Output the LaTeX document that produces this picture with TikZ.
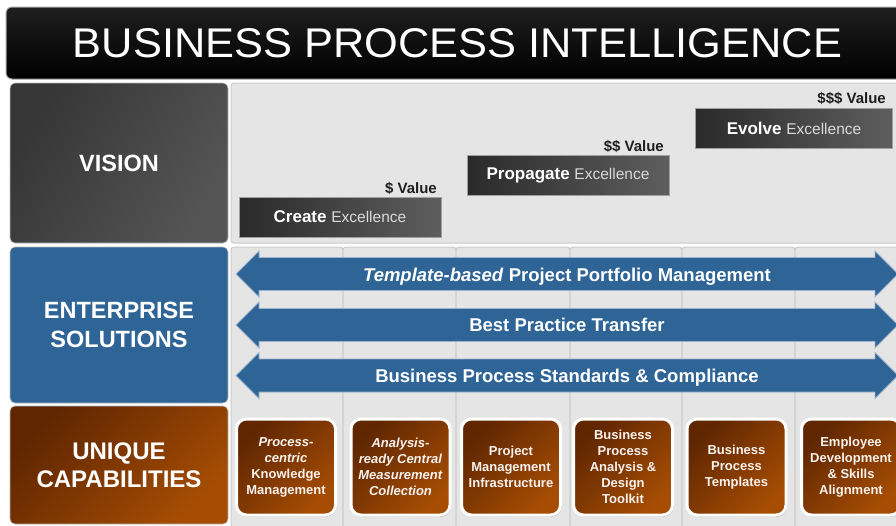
\documentclass[tikz,border=0pt]{standalone}
\usepackage{fontspec}
\usepackage{graphicx}
\setmainfont{Liberation Sans}
\usetikzlibrary{shadows}
\definecolor{panel}{HTML}{E5E5E5}
\definecolor{panelline}{HTML}{CBCBCB}
\definecolor{visA}{HTML}{363636}
\definecolor{visB}{HTML}{555555}
\definecolor{entblue}{HTML}{2F6497}
\definecolor{arrowline}{HTML}{9BB3CC}
\definecolor{brA}{HTML}{5F2600}
\definecolor{brB}{HTML}{A64D03}
\definecolor{stepA}{HTML}{2A2A2A}
\definecolor{stepB}{HTML}{5E5E5E}
\definecolor{excgray}{HTML}{DADADA}
\definecolor{valtext}{HTML}{1E1E1E}
\definecolor{captext}{HTML}{FBF3F0}
\tikzset{
  hdrbox/.style={rounded corners=5pt, draw=gray!55, line width=0.6pt, text=white,
    align=center, inner sep=0pt, minimum width=218pt,
    font=\fontsize{23.5}{29}\selectfont\bfseries},
  stepbox/.style={draw=gray!75, line width=1pt, left color=stepA, right color=stepB,
    text=white, inner sep=0pt, minimum width=202pt, minimum height=40pt,
    font=\fontsize{17}{20}\selectfont\bfseries},
  valuetext/.style={text=valtext, inner sep=0pt, anchor=base east,
    font=\fontsize{15}{18}\selectfont\bfseries},
  arrowshape/.style={fill=entblue, draw=arrowline, line width=0.8pt},
  arrowtext/.style={text=white, inner sep=0pt, anchor=base,
    font=\fontsize{18.5}{22}\selectfont\bfseries},
  capitem/.style={rounded corners=10pt, draw=white, line width=3pt,
    left color=brA, right color=brB, shading angle=45,
    minimum width=99pt, minimum height=96pt, inner sep=0pt, align=center,
    text=captext, font=\fontsize{13}{16}\selectfont\bfseries,
    drop shadow={shadow xshift=1pt, shadow yshift=-1.5pt, opacity=0.35, fill=black}},
  colpanel/.style={fill=panel, draw=panelline, line width=1pt, rounded corners=3pt}
}
\newcommand{\exc}{{\mdseries\fontsize{15.5}{18}\selectfont\color{excgray}Excellence}}
\begin{document}
\begin{tikzpicture}[x=1pt,y=-1pt]
\useasboundingbox (0,0) rectangle (896,525);
\clip (0,0) rectangle (896,525);
\fill[white] (0,0) rectangle (896,525);

% title bar
\draw[rounded corners=6pt, top color=black!88, bottom color=black, draw=gray!70, line width=1pt]
  (6,7) rectangle (910,79);
\node[text=white, inner sep=0pt] (title) at (457.5,43.5)
  {\resizebox{769pt}{29pt}{\fontsize{40}{40}\selectfont BUSINESS PROCESS INTELLIGENCE}};

% vision panel
\draw[colpanel] (231,83) rectangle (910,243);
% column panels
\foreach \xa/\xb in {231/343, 343/456, 456/570, 570/682, 682/795, 795/910}
  \draw[colpanel] (\xa,247) rectangle (\xb,535);

% row headers
\node[hdrbox, left color=visA, right color=visB, shading angle=60, minimum height=160pt]
  (vision) at (119,163) {VISION};
\node[hdrbox, fill=entblue, minimum height=156pt]
  (enterprise) at (119,325) {ENTERPRISE\\SOLUTIONS};
\node[hdrbox, left color=brA, right color=brB, shading angle=45, minimum height=118pt,
  font=\fontsize{24}{28}\selectfont\bfseries]
  (unique) at (119,465) {UNIQUE\\CAPABILITIES};

% vision steps
\node[stepbox] (create) at (340,217) {Create \exc};
\node[valuetext] (cval) at (437,193) {\$ Value};
\node[stepbox] (propagate) at (568,175) {Propagate \exc};
\node[valuetext] (pval) at (664,151) {\$\$ Value};
\node[stepbox, minimum width=197pt] (evolve) at (794,128) {Evolve \exc};
\node[valuetext] (eval) at (886,103) {\$\$\$ Value};

% double arrows
\foreach \c/\nm in {274/a1, 325/a2, 375.5/a3}{
  \draw[arrowshape] (236,\c) -- (259,\c-23) -- (259,\c-16.5) -- (875,\c-16.5) -- (875,\c-23)
    -- (898,\c) -- (875,\c+23) -- (875,\c+16.5) -- (259,\c+16.5) -- (259,\c+23) -- cycle;
}
\node[arrowtext] (t1) at (567,281) {\textit{Template-based} Project Portfolio Management};
\node[arrowtext] (t2) at (567,331.5) {Best Practice Transfer};
\node[arrowtext] (t3) at (567,382.5) {Business Process Standards \& Compliance};

% unique capabilities
\node[capitem] (c1) at (286,467) {\textit{Process-}\\\textit{centric}\\Knowledge\\Management};
\node[capitem] (c2) at (400.5,467) {\textit{Analysis-}\\\textit{ready Central}\\\textit{Measurement}\\\textit{Collection}};
\node[capitem] (c3) at (511,467) {Project\\Management\\Infrastructure};
\node[capitem] (c4) at (623,467) {Business\\Process\\Analysis \&\\Design\\Toolkit};
\node[capitem] (c5) at (736.5,467) {Business\\Process\\Templates};
\node[capitem] (c6) at (851,467) {Employee\\Development\\\& Skills\\Alignment};
\end{tikzpicture}
\end{document}
